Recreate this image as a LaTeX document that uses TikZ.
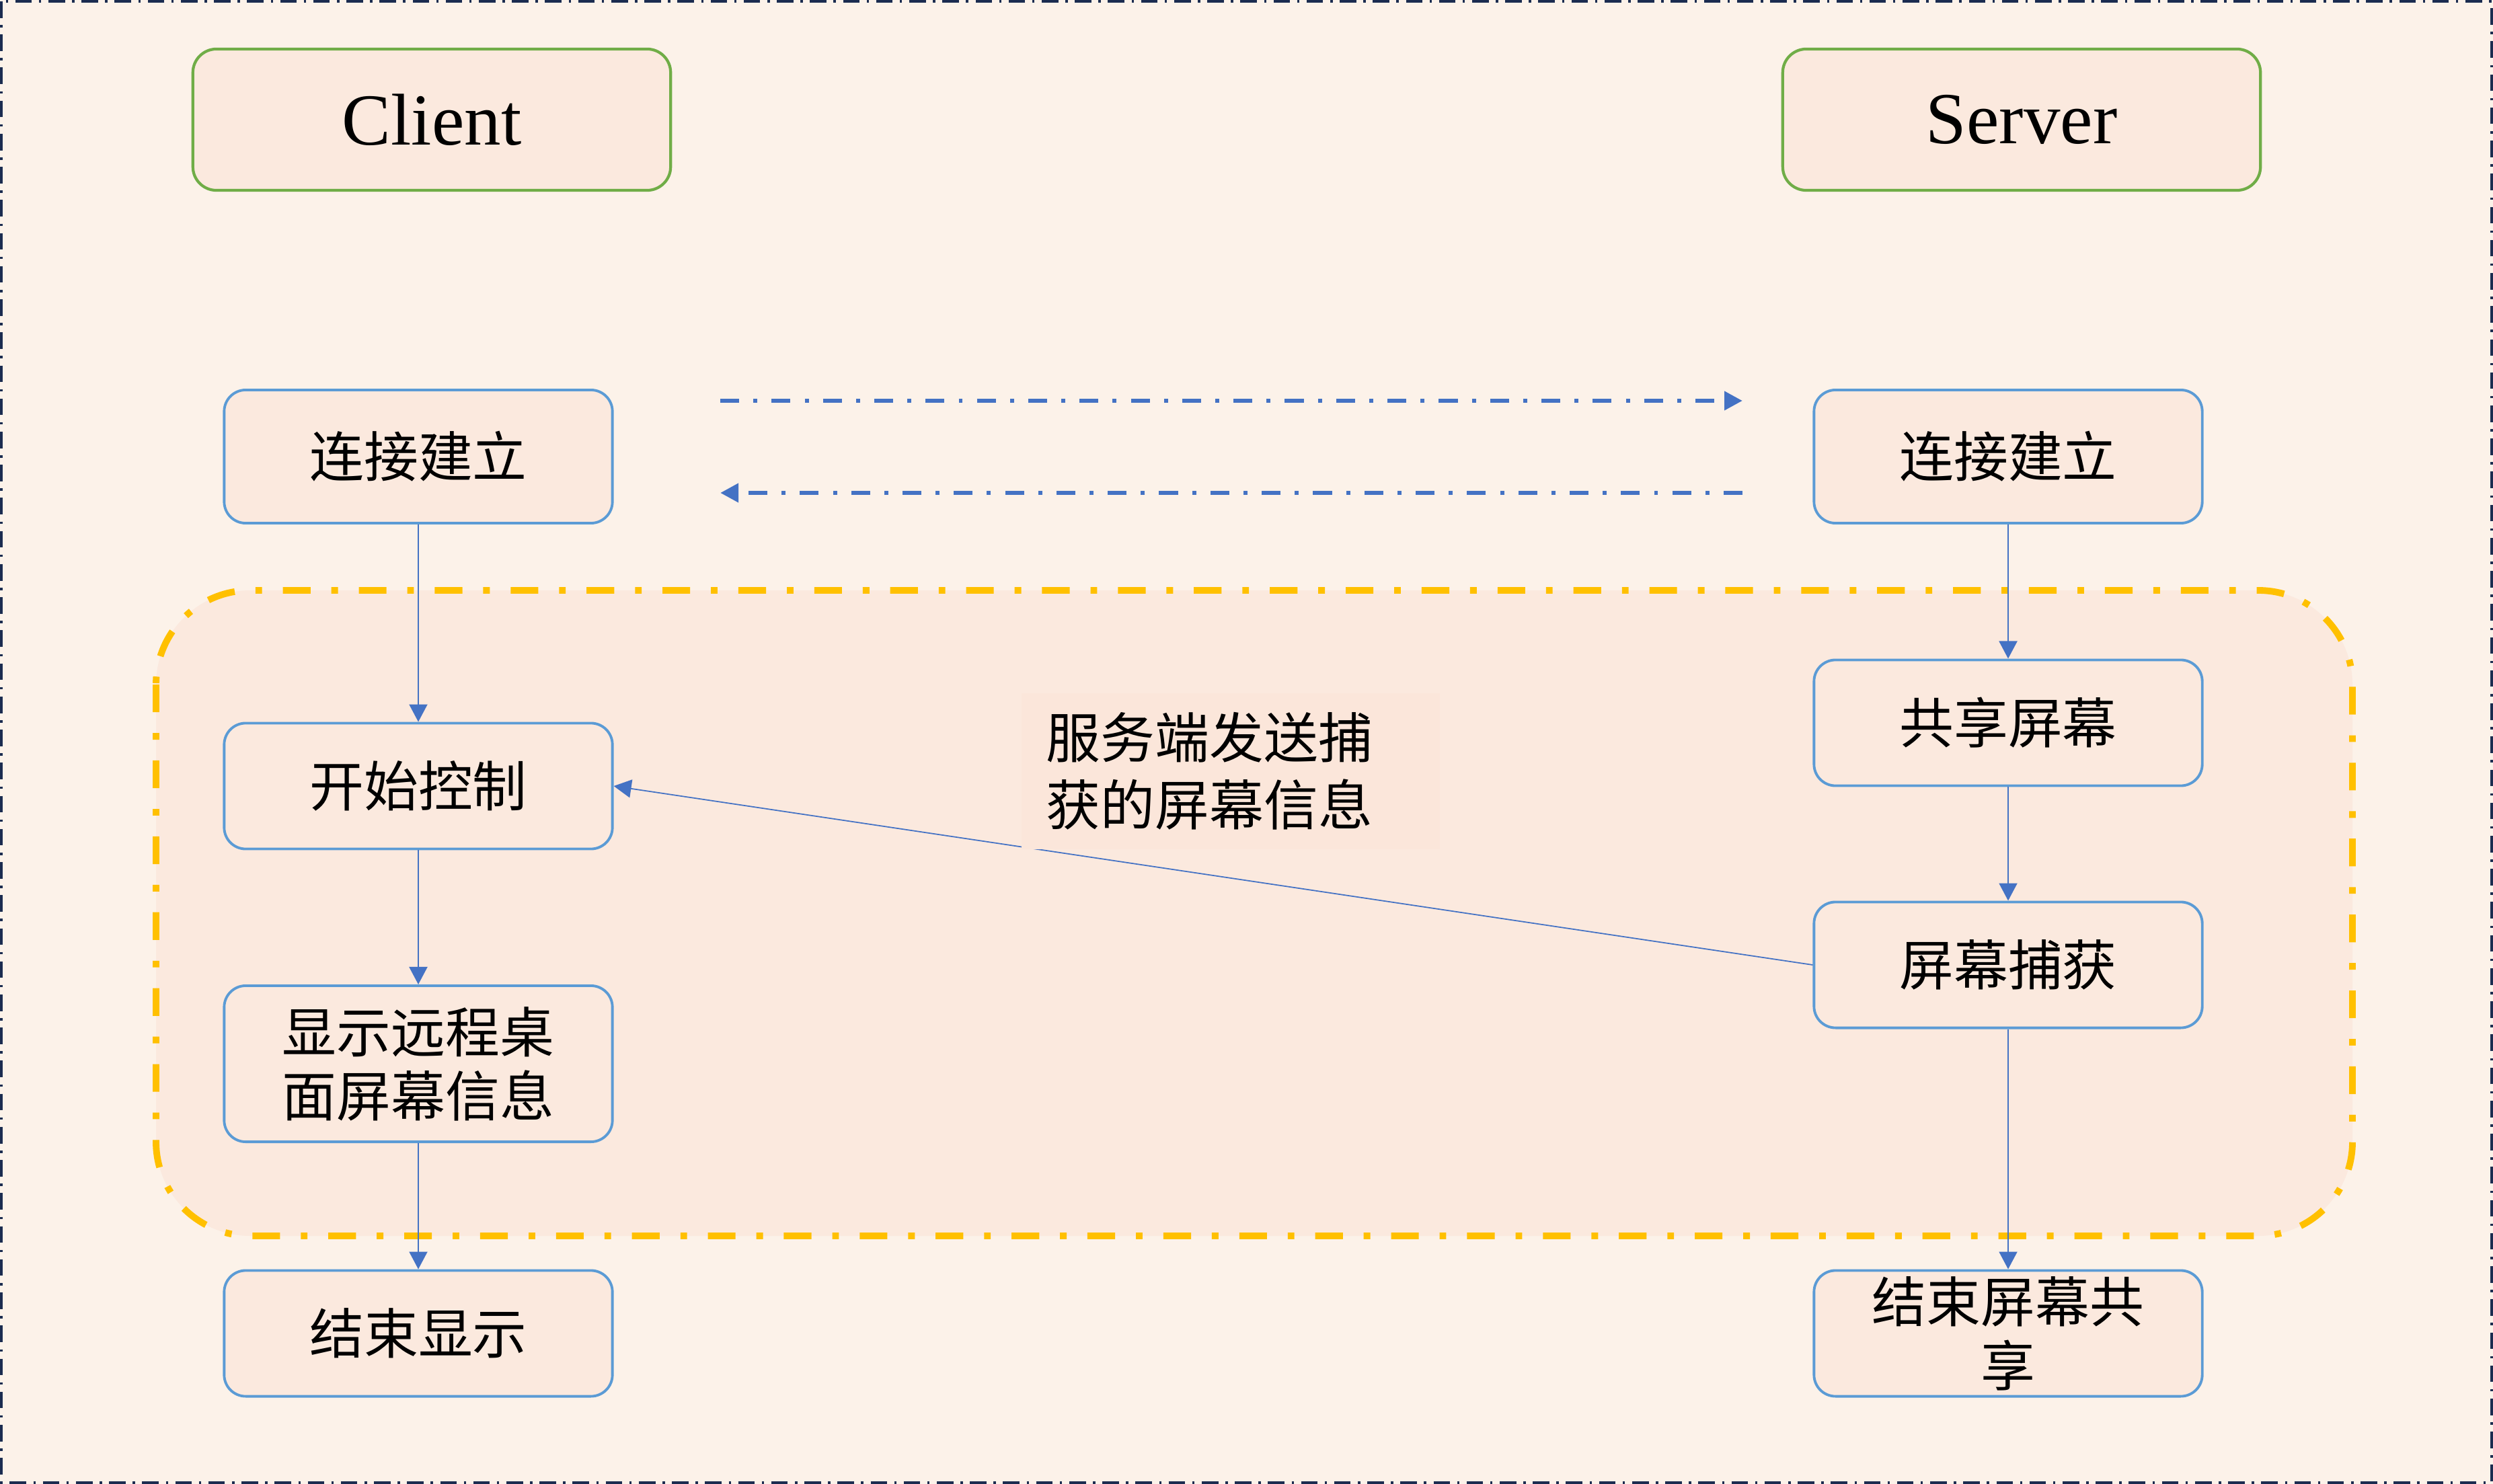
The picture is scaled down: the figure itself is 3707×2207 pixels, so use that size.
\documentclass[tikz,border=0pt]{standalone}
\usepackage{fontspec}
\setmainfont{Liberation Serif}
\newfontfamily\cjk{Noto Sans CJK SC}
\usetikzlibrary{arrows.meta,positioning,calc}
\definecolor{Paper}{HTML}{FCF2E9}
\definecolor{Peach}{HTML}{FBE9DE}
\definecolor{NoteFill}{HTML}{FBE6DA}
\definecolor{Frame}{HTML}{1B2C50}
\definecolor{BoxLine}{HTML}{5B9BD5}
\definecolor{Flow}{HTML}{4472C4}
\definecolor{TitleLine}{HTML}{70AD47}
\definecolor{Loop}{HTML}{FFC000}
\tikzset{
  titlebox/.style={draw=TitleLine,line width=1.2pt,fill=Peach,rounded corners=0.35cm,
    minimum width=7.1cm,minimum height=2.1cm,font=\fontsize{31}{36}\selectfont},
  stepbox/.style={draw=BoxLine,line width=1.1pt,fill=Peach,rounded corners=0.32cm,
    minimum width=5.77cm,minimum height=1.87cm,inner sep=0pt,align=center,
    font=\cjk\fontsize{23}{27}\selectfont},
  flow/.style={draw=Flow,line width=0.6pt,-{Triangle[length=0.26cm,width=0.27cm]}},
  talk/.style={draw=Flow,line width=1.9pt,dash pattern=on 8pt off 6pt on 1.7pt off 6pt,
    -{Triangle[length=0.27cm,width=0.27cm]}},
}

\begin{document}
\begin{tikzpicture}[x=0.01cm,y=-0.01cm]
\useasboundingbox (0,0) rectangle (3707,2207);
\fill[Paper] (0,0) rectangle (3707,2207);
\draw[Frame,line width=1.4pt,dash pattern=on 7pt off 3pt on 1pt off 3pt] (2,2) rectangle (3705,2205);
\draw[Loop,line width=2.8pt,dash pattern=on 11.7pt off 8.8pt on 2.8pt off 8.8pt,
  fill=Peach,rounded corners=1.4cm] (232,878) rectangle (3498,1838);
\node[titlebox] (client) at (642,178) {Client};
\node[titlebox] (server) at (3006,178) {Server};
\node[stepbox,minimum height=1.98cm] (cconn) at (622,679) {连接建立};
\node[stepbox,minimum height=1.98cm] (sconn) at (2986,679) {连接建立};
\node[stepbox] (ctrl) at (622,1169) {开始控制};
\node[stepbox,minimum height=2.32cm] (show) at (622,1582) {显示远程桌\\面屏幕信息};
\node[stepbox] (cend) at (622,1983) {结束显示};
\node[stepbox] (share) at (2986,1075) {共享屏幕};
\node[stepbox] (grab) at (2986,1435) {屏幕捕获};
\node[stepbox] (send) at (2986,1983) {结束屏幕共\\享};
\coordinate (reqA) at (1071,596);
\coordinate (reqB) at (2591,596);
\coordinate (ackA) at (2591,733);
\coordinate (ackB) at (1071,733);
\draw[talk] (reqA) -- (reqB);
\draw[talk] (ackA) -- (ackB);
\draw[flow] (cconn) -- (ctrl);
\draw[flow] (ctrl) -- (show);
\draw[flow] (show) -- (cend);
\draw[flow] (sconn) -- (share);
\draw[flow] (share) -- (grab);
\draw[flow] (grab) -- (send);
\draw[flow,line width=0.5pt] (grab.west) -- (ctrl.east);
\node[fill=NoteFill,minimum width=6.21cm,minimum height=2.32cm,text width=5.48cm,align=left,
  font=\cjk\fontsize{23}{28.5}\selectfont] (note) at (1830,1147) {服务端发送捕\\获的屏幕信息};
\end{tikzpicture}
\end{document}
